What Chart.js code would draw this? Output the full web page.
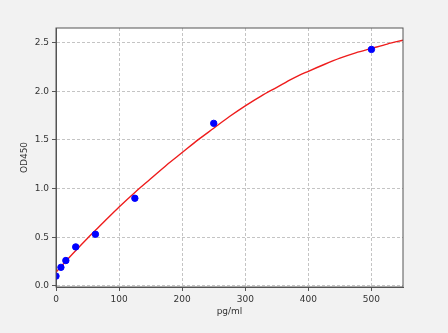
<!DOCTYPE html>
<html>
<head>
<meta charset="utf-8">
<script src="https://cdn.jsdelivr.net/npm/chart.js@4/dist/chart.umd.min.js"></script>
<style>
	body { margin: 0; background: #f2f2f2; }
	canvas { display: block; }
</style>
</head>
<body>
<canvas id="chart" width="448" height="333"></canvas>
<script>
// standards (pg/ml) and measured OD450
const concentrations = [0, 7.8, 15.6, 31.25, 62.5, 125, 250, 500];
const odValues = [0.10, 0.19, 0.26, 0.40, 0.53, 0.90, 1.67, 2.43];

// fitted curve
const curveX = [0, 25, 50, 75, 100, 125, 150, 175, 200, 225, 250, 275, 300, 325, 350, 375, 400, 425, 450, 475, 500, 525, 550];
const curveY = [0.14, 0.32, 0.49, 0.65, 0.81, 0.96, 1.10, 1.24, 1.37, 1.50, 1.62, 1.74, 1.85, 1.95, 2.04, 2.13, 2.205, 2.275, 2.34, 2.395, 2.44, 2.485, 2.525];

const xTicks = [0, 100, 200, 300, 400, 500];
const yTicks = [0, 0.5, 1.0, 1.5, 2.0, 2.5];

const tickFont = { family: 'DejaVu Sans', size: 9 };
const textColor = '#333';
const frameColor = '#555';

// white plot background + full box around the plot
const frame = {
	id: 'frame',
	beforeDraw(chart) {
		const a = chart.chartArea;
		const ctx = chart.ctx;
		ctx.save();
		ctx.fillStyle = '#fff';
		ctx.fillRect(a.left, a.top, a.right - a.left, a.bottom - a.top);
		ctx.restore();
	},
	afterDraw(chart) {
		const a = chart.chartArea;
		const ctx = chart.ctx;
		ctx.save();
		ctx.strokeStyle = frameColor;
		ctx.lineWidth = 1;
		ctx.strokeRect(a.left, a.top, a.right - a.left, a.bottom - a.top);
		ctx.restore();
	}
};

function init() {
	const config = {
		type: 'scatter',
		data: {
			datasets: [
				{
					data: concentrations.map((x, i) => ({ x: x, y: odValues[i] })),
					backgroundColor: '#0000ff',
					borderColor: '#0000ff',
					pointRadius: 3.2,
					order: 0
				},
				{
					type: 'line',
					data: curveX.map((x, i) => ({ x: x, y: curveY[i] })),
					borderColor: '#ee1c1c',
					borderWidth: 1.4,
					pointRadius: 0,
					cubicInterpolationMode: 'monotone',
					fill: false,
					order: 1
				}
			]
		},
		options: {
			responsive: false,
			animation: false,
			layout: { padding: { top: 28, right: 45, left: 0, bottom: 0 } },
			plugins: { legend: { display: false }, tooltip: { enabled: false } },
			scales: {
				x: {
					type: 'linear',
					min: 0,
					max: 550,
					afterFit: scale => { scale.height = 46; },
					afterBuildTicks: scale => { scale.ticks = xTicks.map(v => ({ value: v })); },
					ticks: { font: tickFont, color: textColor, padding: 3, maxRotation: 0, callback: v => '' + v },
					grid: { color: '#c4c4c4', tickColor: frameColor, tickLength: 4, tickBorderDash: [] },
					border: { color: frameColor, dash: [3, 2] },
					title: { display: true, text: 'pg/ml', font: tickFont, color: textColor, padding: { top: 0, bottom: 15.6 } }
				},
				y: {
					type: 'linear',
					min: -0.012,
					max: 2.65,
					afterFit: scale => { scale.width = 56; },
					afterBuildTicks: scale => { scale.ticks = yTicks.map(v => ({ value: v })); },
					ticks: { font: tickFont, color: textColor, padding: 3, callback: v => v.toFixed(1) },
					grid: { color: '#c4c4c4', tickColor: frameColor, tickLength: 4, tickBorderDash: [] },
					border: { color: frameColor, dash: [3, 2] },
					title: { display: true, text: 'OD450', font: tickFont, color: textColor, padding: { top: 19.6, bottom: 0 } }
				}
			}
		},
		plugins: [frame]
	};
	new Chart(document.getElementById('chart'), config);
}

init();
</script>
</body>
</html>
